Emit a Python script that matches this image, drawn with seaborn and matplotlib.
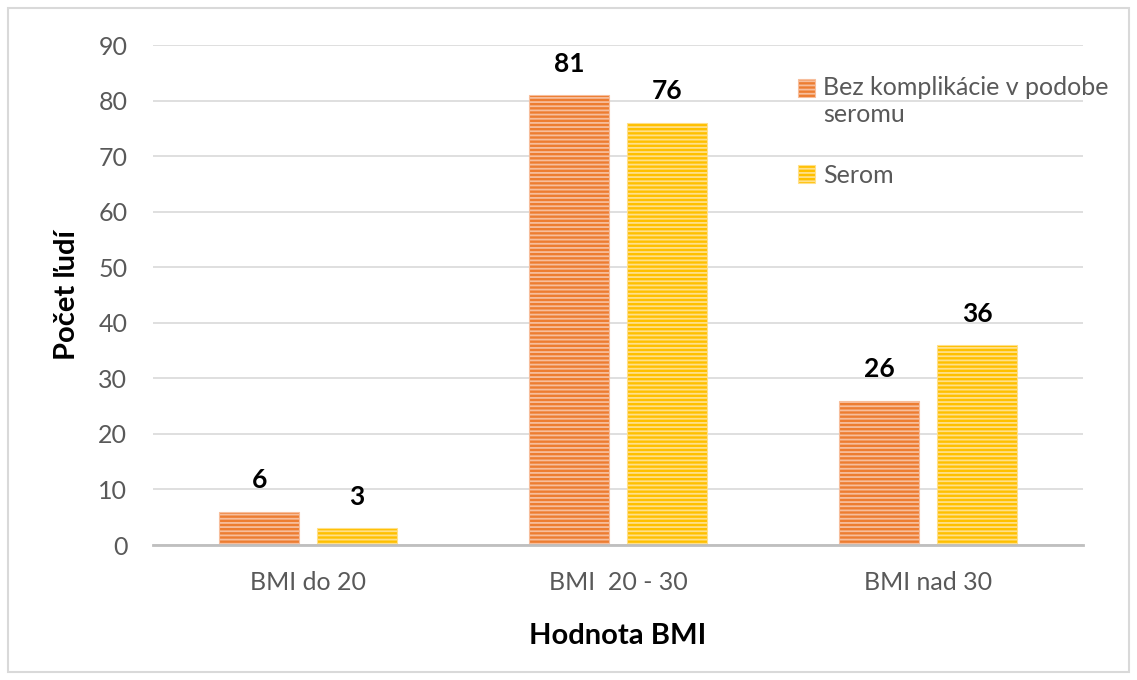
import matplotlib
matplotlib.use("Agg")
import matplotlib.pyplot as plt
import seaborn as sns
import pandas as pd
from matplotlib.patches import Rectangle, Patch
from matplotlib.legend_handler import HandlerPatch

categories = ["BMI do 20", "BMI  20 - 30", "BMI nad 30"]
series_names = ["Bez komplikácie v podobe\nseromu", "Serom"]
no_complication = [6, 81, 26]
seroma = [3, 76, 36]
y_ticks = [0, 10, 20, 30, 40, 50, 60, 70, 80, 90]

face_colors = ["#ED7D31", "#FFC000"]
stripe_colors = ["#F7BE9C", "#FFE08A"]

df = pd.DataFrame({
    "kategoria": categories * 2,
    "skupina": [series_names[0]] * 3 + [series_names[1]] * 3,
    "pocet": no_complication + seroma,
})

sns.set_theme(style="white")
plt.rcParams["font.family"] = ["Lato", "DejaVu Sans"]
plt.rcParams["hatch.linewidth"] = 1.3

fig = plt.figure(figsize=(11.37, 6.8), dpi=100)
ax = fig.add_axes([0.1346, 0.1985, 0.818, 0.7353])

sns.barplot(data=df, x="kategoria", y="pocet", hue="skupina",
            hue_order=series_names, palette=face_colors,
            width=0.632, gap=0.184, ax=ax, legend=False, saturation=1)

# striped fill on each bar
for container, sc in zip(ax.containers, stripe_colors):
    for bar in container:
        bar.set_hatch("----")
        bar.set_edgecolor(sc)
        bar.set_linewidth(0.8)
    ax.bar_label(container, fmt="%d", padding=14, fontsize=19,
                 fontweight="bold", color="black")

ax.set_ylim(0, 90)
ax.set_xlim(-0.5, 2.5)
ax.set_yticks(y_ticks)
ax.yaxis.grid(True, color="#D9D9D9", linewidth=1.2)
ax.set_axisbelow(True)
for s in ["top", "right", "left"]:
    ax.spines[s].set_visible(False)
ax.spines["bottom"].set_color("#BFBFBF")
ax.spines["bottom"].set_linewidth(2)
ax.tick_params(axis="both", length=0, labelsize=18, colors="#595959")
ax.tick_params(axis="y", pad=18.5)
ax.tick_params(axis="x", pad=18.5)

ax.set_xlabel("Hodnota BMI", fontsize=21, fontweight="bold", color="black", labelpad=21)
ax.set_ylabel("Počet ľudí", fontsize=21, fontweight="bold", color="black", labelpad=13)


def top_aligned_square(shift):
    # legend key placed next to the first line of a wrapped label
    def make(legend, orig_handle, xdescent, ydescent, width, height, fontsize):
        return Rectangle((-xdescent, -ydescent + shift), width, height)
    return make


handles = [Patch(facecolor=fc, edgecolor=sc, hatch="----", linewidth=0.8)
           for fc, sc in zip(face_colors, stripe_colors)]
fig.legend(handles, series_names, loc="upper left",
           bbox_to_anchor=(0.682, 0.921), frameon=False, fontsize=18,
           labelcolor="#595959", handlelength=0.7, handleheight=0.7,
           handletextpad=0.3, labelspacing=1.5,
           handler_map={handles[0]: HandlerPatch(patch_func=top_aligned_square(10)),
                        handles[1]: HandlerPatch(patch_func=top_aligned_square(0))})

fig.patches.append(Rectangle((8 / 1137, 8 / 680), 1121 / 1137, 664 / 680,
                             transform=fig.transFigure, fill=False,
                             edgecolor="#D9D9D9", linewidth=1.5))

fig.savefig("out.png", dpi=100, facecolor="white")
